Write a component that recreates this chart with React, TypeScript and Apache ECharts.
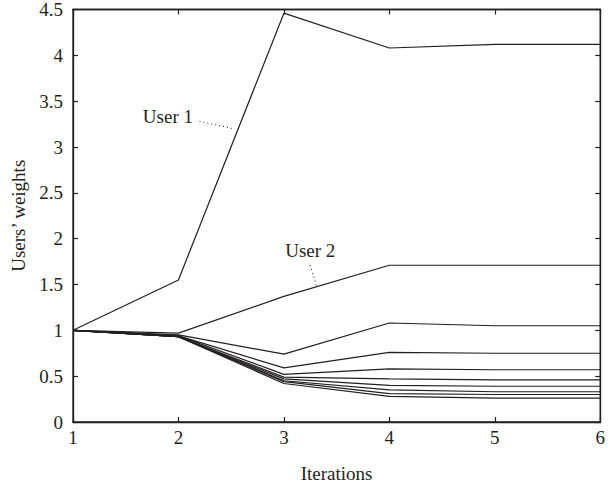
import React, { useEffect, useRef } from "react";
import * as echarts from "echarts";

const iterations = [1, 2, 3, 4, 5, 6];
const user1 = [1, 1.55, 4.46, 4.08, 4.12, 4.12];
const user2 = [1, 0.97, 1.37, 1.71, 1.71, 1.71];
const user3 = [1, 0.95, 0.74, 1.08, 1.05, 1.05];
const user4 = [1, 0.94, 0.59, 0.76, 0.75, 0.75];
const user5 = [1, 0.94, 0.52, 0.58, 0.57, 0.57];
const user6 = [1, 0.93, 0.49, 0.47, 0.46, 0.46];
const user7 = [1, 0.93, 0.47, 0.4, 0.39, 0.39];
const user8 = [1, 0.93, 0.45, 0.35, 0.33, 0.33];
const user9 = [1, 0.93, 0.44, 0.31, 0.3, 0.3];
const user10 = [1, 0.93, 0.42, 0.28, 0.26, 0.26];
const allUsers = [user1, user2, user3, user4, user5, user6, user7, user8, user9, user10];

// annotation anchors in data coordinates
const user1Label = { text: "User 1", at: [1.9, 3.33] };
const user1Leader = [[2.2, 3.28], [2.52, 3.2]];
const user2Label = { text: "User 2", at: [3.25, 1.87] };
const user2Leader = [[3.25, 1.71], [3.31, 1.48]];

const FONT = "Liberation Serif";
const INK = "#231f20";

export default function App() {
  const ref = useRef<HTMLDivElement>(null);
  useEffect(() => {
    document.body.style.margin = "0";
    const chart = echarts.init(ref.current!, null, { renderer: "svg" });
    const tick = { show: true, inside: true, length: 5, lineStyle: { color: INK, width: 1.2 } };
    const line = { show: true, onZero: false, lineStyle: { color: INK, width: 1.3 } };
    chart.setOption({
      animation: false,
      backgroundColor: "#fff",
      grid: { left: 73, right: 5, top: 9, bottom: 63 },
      xAxis: [
        {
          type: "value", min: 1, max: 6, interval: 1, position: "bottom",
          axisLine: line, axisTick: tick, splitLine: { show: false },
          axisLabel: { color: INK, fontFamily: FONT, fontSize: 19, margin: 6 },
          name: "Iterations", nameLocation: "middle", nameGap: 42,
          nameTextStyle: { color: INK, fontFamily: FONT, fontSize: 19 },
        },
        {
          type: "value", min: 1, max: 6, interval: 1, position: "top",
          axisLine: line, axisTick: tick, splitLine: { show: false },
          axisLabel: { show: false },
        },
      ],
      yAxis: [
        {
          type: "value", min: 0, max: 4.5, interval: 0.5, position: "left",
          axisLine: line, axisTick: tick, splitLine: { show: false },
          axisLabel: { color: INK, fontFamily: FONT, fontSize: 19, margin: 10 },
          name: "Users’ weights", nameLocation: "middle", nameGap: 41, nameRotate: 90,
          nameTextStyle: { color: INK, fontFamily: FONT, fontSize: 19 },
        },
        {
          type: "value", min: 0, max: 4.5, interval: 0.5, position: "right",
          axisLine: line, axisTick: tick, splitLine: { show: false },
          axisLabel: { show: false },
        },
      ],
      series: [
        ...allUsers.map((u) => ({
          type: "line",
          data: iterations.map((x, i) => [x, u[i]]),
          showSymbol: false,
          symbol: "none",
          lineStyle: { color: INK, width: 1.2 },
          silent: true,
        })),
        {
          type: "line",
          xAxisIndex: 1,
          yAxisIndex: 1,
          data: iterations.map((x, i) => [x, user1[i]]),
          symbol: "none",
          showSymbol: false,
          lineStyle: { opacity: 0 },
          silent: true,
        },
      ],
    });
    const px = (p: number[]) => chart.convertToPixel({ gridIndex: 0 }, p) as number[];
    const textEl = (lbl: { text: string; at: number[] }) => {
      const p = px(lbl.at);
      return {
        type: "text", x: p[0], y: p[1],
        style: { text: lbl.text, fill: INK, font: `19px "${FONT}"`, textAlign: "center", textVerticalAlign: "middle" },
      };
    };
    const leader = (pts: number[][]) => {
      const a = px(pts[0]);
      const b = px(pts[1]);
      return {
        type: "line",
        shape: { x1: a[0], y1: a[1], x2: b[0], y2: b[1] },
        style: { stroke: INK, lineWidth: 1, lineDash: [1, 3] },
      };
    };
    const tl = px([1, 4.5]);
    const br = px([6, 0]);
    const box = {
      type: "rect",
      shape: { x: tl[0], y: tl[1], width: br[0] - tl[0], height: br[1] - tl[1] },
      style: { fill: "none", stroke: INK, lineWidth: 1.3 },
      silent: true,
      z: 10,
    };
    chart.setOption({
      graphic: [box, textEl(user1Label), leader(user1Leader), textEl(user2Label), leader(user2Leader)],
    });
    return () => chart.dispose();
  }, []);
  return <div ref={ref} style={{ width: 608, height: 488 }} />;
}
